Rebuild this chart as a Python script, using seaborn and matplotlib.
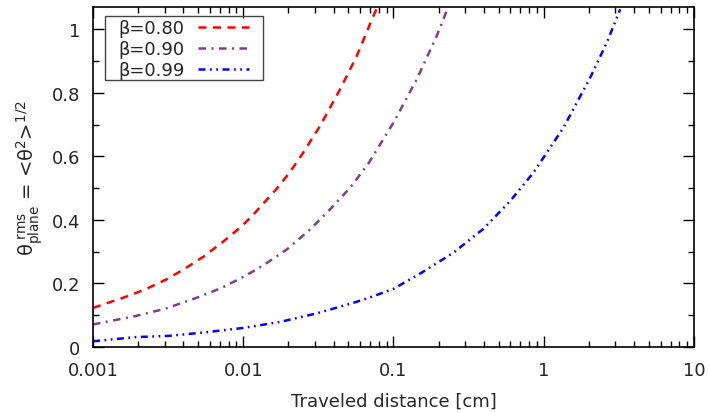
import pandas as pd
import matplotlib
matplotlib.use("Agg")
import matplotlib.pyplot as plt
import matplotlib.ticker as mticker
from matplotlib.patches import Rectangle
import seaborn as sns

# values
x_080 = [0.001, 0.00163, 0.00222, 0.00309, 0.0041, 0.00542, 0.00719, 0.00977,
         0.012, 0.0167, 0.0205, 0.0251, 0.0324, 0.0441, 0.057, 0.0735, 0.078]
y_080 = [0.123, 0.157, 0.181, 0.213, 0.247, 0.284, 0.328, 0.380,
         0.423, 0.498, 0.551, 0.612, 0.695, 0.811, 0.916, 1.042, 1.068]

x_090 = [0.001, 0.0019, 0.003, 0.00477, 0.00719, 0.0103, 0.0136, 0.0195,
         0.0279, 0.0378, 0.0514, 0.068, 0.1, 0.143, 0.194, 0.226]
y_090 = [0.071, 0.097, 0.120, 0.153, 0.186, 0.224, 0.257, 0.307,
         0.370, 0.433, 0.501, 0.577, 0.706, 0.843, 0.979, 1.058]

x_099 = [0.001, 0.0019, 0.00317, 0.0053, 0.01, 0.0176, 0.0309, 0.0541,
         0.0735, 0.1, 0.154, 0.251, 0.397, 0.597, 0.855, 1.352, 2.04, 2.63, 3.23]
y_099 = [0.018, 0.031, 0.035, 0.045, 0.060, 0.079, 0.106, 0.139,
         0.160, 0.183, 0.234, 0.297, 0.372, 0.459, 0.549, 0.690, 0.848, 0.958, 1.063]

labels = ["β=0.80", "β=0.90", "β=0.99"]
colors = ["#ff0000", "#7e3f8e", "#0000ff"]
styles = [(0, (3.2, 2.6)), (0, (3, 2.2, 0.8, 2.2)), (0, (2.8, 1.8, 0.7, 1.8, 0.7, 1.8))]

sns.set_style("ticks")
plt.rcParams["font.family"] = ["DejaVu Sans"]
plt.rcParams["mathtext.fontset"] = "dejavusans"

fig = plt.figure(figsize=(7.09, 4.14), dpi=100)
ax = fig.add_axes([0.1312, 0.1594, 0.8476, 0.8213])

series = [(x_080, y_080), (x_090, y_090), (x_099, y_099)]
for (xs, ys), lab, col, ls in zip(series, labels, colors, styles):
    df = pd.DataFrame({"x": xs, "y": ys})
    sns.lineplot(data=df, x="x", y="y", ax=ax, color=col, linestyle=ls,
                 linewidth=1.8, label=lab)

ax.set_xscale("log")
ax.set_xlim(0.001, 10)
ax.set_ylim(0, 1.07)
ax.set_xticks([0.001, 0.01, 0.1, 1, 10])
ax.xaxis.set_major_formatter(mticker.FuncFormatter(lambda v, p: "%g" % v))
ax.xaxis.set_minor_locator(mticker.LogLocator(base=10, subs=range(2, 10)))
ax.xaxis.set_minor_formatter(mticker.NullFormatter())
ax.set_yticks([0, 0.2, 0.4, 0.6, 0.8, 1.0])
ax.yaxis.set_major_formatter(mticker.FuncFormatter(lambda v, p: "%g" % v))
ax.yaxis.set_minor_locator(mticker.MultipleLocator(0.1))

ax.tick_params(which="both", direction="in", top=True, right=True,
               labelsize=13, color="black")
ax.tick_params(axis="x", which="major", pad=10)
ax.tick_params(axis="y", which="major", pad=9)
ax.tick_params(which="major", length=8, width=1)
ax.tick_params(which="minor", length=4, width=1)
for s in ax.spines.values():
    s.set_color("black")
    s.set_linewidth(1.2)

ax.set_xlabel("Traveled distance [cm]", fontsize=13, labelpad=9)
ax.set_ylabel(r"θ$^{\ \mathrm{rms}}_{\mathrm{plane}}$ = <θ$^{2}$>$^{1/2}$",
              fontsize=14, labelpad=5)

leg = ax.legend(loc="upper left", bbox_to_anchor=(0.042, 0.964), borderaxespad=0,
                markerfirst=False, fontsize=13, handlelength=2.8,
                labelspacing=0.16, borderpad=0.0, handletextpad=0.75,
                frameon=False)
ax.add_patch(Rectangle((0.02, 0.785), 0.263, 0.189, transform=ax.transAxes,
                       fill=False, edgecolor="#444444", linewidth=1.0,
                       zorder=5, clip_on=False))

fig.savefig("out.png", dpi=100)
